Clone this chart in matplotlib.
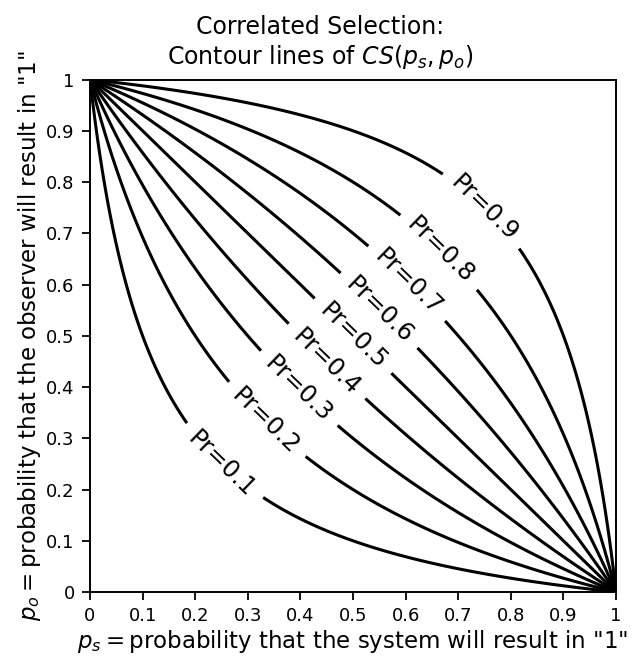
import numpy as np
import matplotlib
matplotlib.use("Agg")
import matplotlib.pyplot as plt
from matplotlib.ticker import FuncFormatter

# contour levels of CS
levels = [0.1, 0.2, 0.3, 0.4, 0.5, 0.6, 0.7, 0.8, 0.9]
ticks = [0, 0.1, 0.2, 0.3, 0.4, 0.5, 0.6, 0.7, 0.8, 0.9, 1]

def cs(ps, po):
    # probability that both land on "1", given that they agree
    return ps * po / (ps * po + (1 - ps) * (1 - po))

grid = np.linspace(0.001, 0.999, 250)
PS, PO = np.meshgrid(grid, grid)
Z = cs(PS, PO)

# labels sit on the diagonal p_s = p_o, where cs(t, t) = level
label_t = [np.sqrt(l) / (np.sqrt(l) + np.sqrt(1 - l)) for l in levels]

fig = plt.figure(figsize=(6.4, 6.63), dpi=100)
ax = fig.add_axes([0.1406, 0.107, 0.822, 0.773])

cont = ax.contour(PS, PO, Z, levels=levels, colors="black", linewidths=2.2)
ax.clabel(cont, fmt="Pr=%.1f", fontsize=17.5, inline=True, inline_spacing=12,
          manual=[(t, t) for t in label_t])

ax.set_xlim(0, 1)
ax.set_ylim(0, 1)
ax.set_xticks(ticks)
ax.set_yticks(ticks)
fmt = FuncFormatter(lambda v, pos: "%g" % v)
ax.xaxis.set_major_formatter(fmt)
ax.yaxis.set_major_formatter(fmt)
ax.tick_params(labelsize=13, length=6, width=1.3, pad=5)
for sp in ax.spines.values():
    sp.set_linewidth(1.4)

fig.text(0.5, 0.893, "Correlated Selection:\nContour lines of $CS(p_s, p_o)$",
         fontsize=17, ha="center", va="bottom", multialignment="center")
ax.set_xlabel('$p_s = $probability that the system will result in "1"', fontsize=16.5,
              labelpad=2)
ax.set_ylabel('$p_o = $probability that the observer will result in "1"', fontsize=16.5,
              labelpad=2)

fig.savefig("out.png", dpi=100)
